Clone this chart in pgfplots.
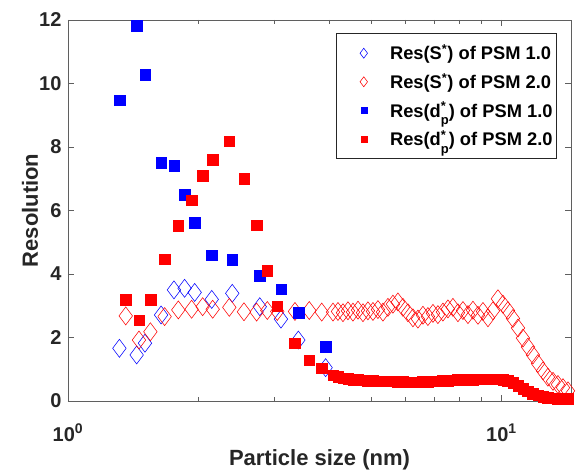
\documentclass[border=0pt]{standalone}
\usepackage{fontspec}
\setmainfont{Liberation Sans}
\usepackage{pgfplots}
\usepackage{pgfplotstable}
\pgfplotsset{compat=1.18}
\definecolor{txt}{RGB}{38,38,38}
\definecolor{axgray}{RGB}{95,95,95}
\definecolor{mblue}{RGB}{0,0,255}
\definecolor{mred}{RGB}{255,0,0}
\newcommand{\dpstar}{d\rlap{\textsuperscript{*}}\raisebox{-0.42em}{\fontsize{13}{13}\selectfont p}}

% PSM 1.0: particle size, Res(S*), Res(dp*)
\pgfplotstableread{
dp     S     D
1.314  1.66  9.48
1.440  1.45  11.82
1.505  1.82  10.28
1.640  2.71  7.50
1.756  3.50  7.42
1.858  3.55  6.49
1.960  3.42  5.62
2.146  3.20  4.60
2.393  3.39  4.45
2.770  2.97  3.94
3.100  2.58  3.52
3.400  1.92  2.79
3.930  1.05  1.71
}\psmone

% PSM 2.0: particle size, Res(S*), Res(dp*)
\pgfplotstableread{
dp     S     D
1.359  2.68  3.20
1.458  1.92  2.55
1.549  2.18  3.20
1.671  2.66  4.47
1.797  2.87  5.52
1.929  2.89  6.33
2.045  2.97  7.09
2.157  2.89  7.60
2.356  2.95  8.18
2.547  2.81  7.00
2.724  2.80  5.54
2.883  2.85  4.10
3.040  2.82  2.99
3.339  2.82  1.82
3.603  2.85  1.29
3.850  2.80  1.03
4.087  2.80  0.82
4.196  2.82  0.76
4.309  2.78  0.72
4.425  2.84  0.70
4.544  2.80  0.68
4.667  2.86  0.67
4.792  2.78  0.66
4.920  2.84  0.65
5.053  2.82  0.64
5.189  2.88  0.63
5.329  2.80  0.63
5.472  2.95  0.62
5.619  3.05  0.62
5.770  3.12  0.61
5.926  2.95  0.61
6.085  2.78  0.60
6.249  2.62  0.60
6.417  2.58  0.60
6.590  2.70  0.61
6.767  2.66  0.61
6.950  2.76  0.62
7.137  2.72  0.63
7.329  2.80  0.64
7.526  2.90  0.65
7.729  2.95  0.66
7.937  2.78  0.67
8.151  2.85  0.67
8.370  2.72  0.68
8.596  2.86  0.68
8.827  2.70  0.69
9.065  2.82  0.69
9.309  2.62  0.69
9.559  2.84  0.69
9.816  3.22  0.69
10.08  3.05  0.68
10.35  2.85  0.64
10.63  2.60  0.57
10.92  2.30  0.48
11.21  1.98  0.39
11.51  1.70  0.31
11.82  1.45  0.24
12.14  1.18  0.18
12.47  0.95  0.14
12.80  0.75  0.11
13.15  0.62  0.09
13.50  0.52  0.08
13.87  0.42  0.08
14.24  0.32  0.08
}\psmtwo

\begin{document}
\begin{tikzpicture}
\useasboundingbox (-68pt,-68pt) rectangle (508pt,401pt);
\begin{axis}[
  at={(0pt,0pt)}, anchor=south west,
  scale only axis, width=503pt, height=381pt,
  xmode=log, xmin=1, xmax=14.47, ymin=0, ymax=12,
  xtick={1,10}, xticklabels={10\textsuperscript{0},10\textsuperscript{1}},
  minor xtick={2,3,4,5,6,7,8,9},
  ytick={0,2,...,12},
  /pgf/number format/assume math mode=true,
  tick label style={font=\fontsize{20}{24}\selectfont\bfseries, text=txt},
  xticklabel style={anchor=base, yshift=-40pt},
  yticklabel style={xshift=-3pt},
  axis line style={axgray, line width=0.8pt},
  every tick/.style={axgray, line width=0.8pt},
  major tick length=6pt, minor tick length=4pt,
  xlabel={Particle size (nm)}, ylabel={Resolution},
  label style={font=\fontsize{22}{26}\selectfont\bfseries, text=txt},
  xlabel style={at={(axis description cs:0.5,-0.168)}, anchor=base},
  ylabel style={at={(axis description cs:-0.0755,0.5)}, anchor=center},
  clip=false,
  legend style={at={(axis description cs:0.533,0.9646)}, anchor=north west,
    draw=txt, line width=0.8pt, fill=white,
    font=\fontsize{18.3}{22}\selectfont\bfseries, text=black,
    row sep=8pt, inner ysep=9pt, inner xsep=2pt},
  legend cell align=left,
  legend image code/.code={\path (-25pt,0pt) (24pt,0pt);
    \draw[#1] plot coordinates {(0pt,0pt)};},
]
\addplot[only marks, mark=diamond, mark size=9pt, draw=mblue, line width=0.55pt,
  legend image post style={mark size=5pt}] table[x=dp, y=S] {\psmone};
\addlegendentry{Res(S\textsuperscript{*}) of PSM 1.0}
\addplot[only marks, mark=diamond, mark size=9pt, draw=mred, line width=0.55pt,
  legend image post style={mark size=5pt}] table[x=dp, y=S] {\psmtwo};
\addlegendentry{Res(S\textsuperscript{*}) of PSM 2.0}
\addplot[only marks, mark=square*, mark size=5.3pt, draw=mblue, fill=mblue,
  line width=0.3pt, legend image post style={mark size=3pt}] table[x=dp, y=D] {\psmone};
\addlegendentry{Res(\dpstar) of PSM 1.0}
\addplot[only marks, mark=square*, mark size=5.3pt, draw=mred, fill=mred,
  line width=0.3pt, legend image post style={mark size=3pt}] table[x=dp, y=D] {\psmtwo};
\addlegendentry{Res(\dpstar) of PSM 2.0}
\end{axis}
\end{tikzpicture}
\end{document}
